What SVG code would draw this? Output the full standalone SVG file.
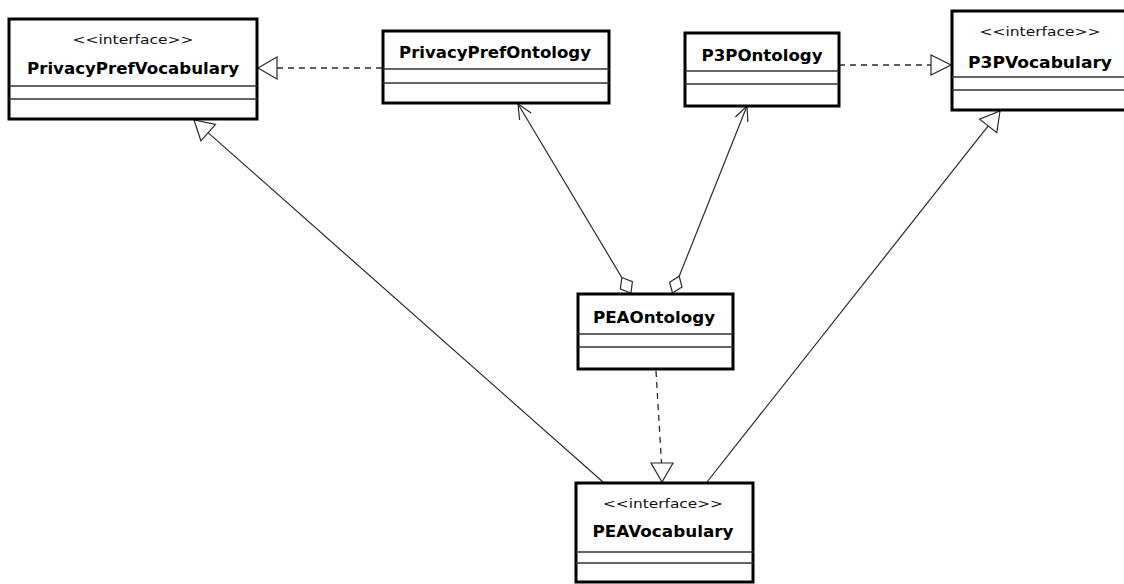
<svg xmlns="http://www.w3.org/2000/svg" width="1124" height="584" viewBox="0 0 1124 584">
  <style>
    .box { fill: #ffffff; stroke: #000000; stroke-width: 3; }
    .sep { stroke: #333333; stroke-width: 1.6; fill: none; }
    .name { font-family: "DejaVu Sans", "Liberation Sans", sans-serif; font-weight: bold; font-size: 16px; fill: #000000; text-anchor: middle; }
    .stereo { font-family: "DejaVu Sans", "Liberation Sans", sans-serif; font-size: 13px; fill: #111111; text-anchor: middle; }
    .line { stroke: #2a2a2a; stroke-width: 1.2; fill: none; }
    .dash { stroke: #2a2a2a; stroke-width: 1.3; fill: none; stroke-dasharray: 6 5; }
    .head { stroke: #2a2a2a; stroke-width: 1.2; fill: #ffffff; stroke-linejoin: miter; }
  </style>
  <rect width="1124" height="584" fill="#ffffff"/>

  <g id="connectors">
    <!-- realization: PrivacyPrefOntology -> PrivacyPrefVocabulary -->
    <line class="dash" x1="382" y1="68" x2="277" y2="68"/>
    <polygon class="head" points="258,68 277,57 277,79"/>
    <!-- realization: P3POntology -> P3PVocabulary -->
    <line class="dash" x1="839" y1="65" x2="931" y2="65"/>
    <polygon class="head" points="951,65 931,55 931,75"/>
    <!-- realization: PEAOntology -> PEAVocabulary -->
    <line class="dash" x1="656" y1="371" x2="661.5" y2="463"/>
    <polygon class="head" points="662,482 651,463 673,463"/>
    <!-- generalization: PEAVocabulary -> PrivacyPrefVocabulary -->
    <line class="line" x1="603" y1="482" x2="208" y2="132.6"/>
    <polygon class="head" points="194,120 200.9,140.8 215.5,124.4"/>
    <!-- generalization: PEAVocabulary -> P3PVocabulary -->
    <line class="line" x1="707" y1="482" x2="988.2" y2="125.9"/>
    <polygon class="head" points="1000,111 996.8,132.7 979.6,119.1"/>
    <!-- aggregation: PEAOntology <>-> PrivacyPrefOntology -->
    <line class="line" x1="518" y1="104" x2="621.8" y2="277.5"/>
    <polyline class="line" points="519.6,120 518,104 531.2,113"/>
    <polygon class="head" points="631,293 632.4,281.6 621.8,277.5 620.4,289"/>
    <!-- aggregation: PEAOntology <>-> P3POntology -->
    <line class="line" x1="747" y1="106" x2="679.2" y2="276.3"/>
    <polyline class="line" points="735.4,117 747,106 747.9,122"/>
    <polygon class="head" points="672.5,293 682,287 679.2,276.3 669.6,282.2"/>
  </g>

  <g id="PrivacyPrefVocabulary">
    <rect class="box" x="9" y="19" width="248" height="100"/>
    <text class="stereo" x="133" y="44" textLength="121" lengthAdjust="spacingAndGlyphs">&lt;&lt;interface&gt;&gt;</text>
    <text class="name" x="133" y="74" textLength="212" lengthAdjust="spacingAndGlyphs">PrivacyPrefVocabulary</text>
    <line class="sep" x1="9" y1="86" x2="257" y2="86"/>
    <line class="sep" x1="9" y1="99" x2="257" y2="99"/>
  </g>

  <g id="PrivacyPrefOntology">
    <rect class="box" x="383" y="31" width="226" height="72"/>
    <text class="name" x="495" y="58" textLength="192" lengthAdjust="spacingAndGlyphs">PrivacyPrefOntology</text>
    <line class="sep" x1="383" y1="69" x2="609" y2="69"/>
    <line class="sep" x1="383" y1="83" x2="609" y2="83"/>
  </g>

  <g id="P3POntology">
    <rect class="box" x="685" y="33" width="154" height="73"/>
    <text class="name" x="762" y="61" textLength="121" lengthAdjust="spacingAndGlyphs">P3POntology</text>
    <line class="sep" x1="685" y1="71" x2="839" y2="71"/>
    <line class="sep" x1="685" y1="84" x2="839" y2="84"/>
  </g>

  <g id="P3PVocabulary">
    <rect class="box" x="952" y="11" width="178" height="99"/>
    <text class="stereo" x="1040" y="36" textLength="121" lengthAdjust="spacingAndGlyphs">&lt;&lt;interface&gt;&gt;</text>
    <text class="name" x="1040" y="68" textLength="144" lengthAdjust="spacingAndGlyphs">P3PVocabulary</text>
    <line class="sep" x1="952" y1="77" x2="1130" y2="77"/>
    <line class="sep" x1="952" y1="90" x2="1130" y2="90"/>
  </g>

  <g id="PEAOntology">
    <rect class="box" x="578" y="294" width="155" height="75"/>
    <text class="name" x="654" y="323" textLength="122" lengthAdjust="spacingAndGlyphs">PEAOntology</text>
    <line class="sep" x1="578" y1="334" x2="733" y2="334"/>
    <line class="sep" x1="578" y1="347" x2="733" y2="347"/>
  </g>

  <g id="PEAVocabulary">
    <rect class="box" x="576" y="483" width="177" height="99"/>
    <text class="stereo" x="663" y="508" textLength="120" lengthAdjust="spacingAndGlyphs">&lt;&lt;interface&gt;&gt;</text>
    <text class="name" x="663" y="537" textLength="141" lengthAdjust="spacingAndGlyphs">PEAVocabulary</text>
    <line class="sep" x1="576" y1="552" x2="753" y2="552"/>
    <line class="sep" x1="576" y1="563" x2="753" y2="563"/>
  </g>
</svg>
